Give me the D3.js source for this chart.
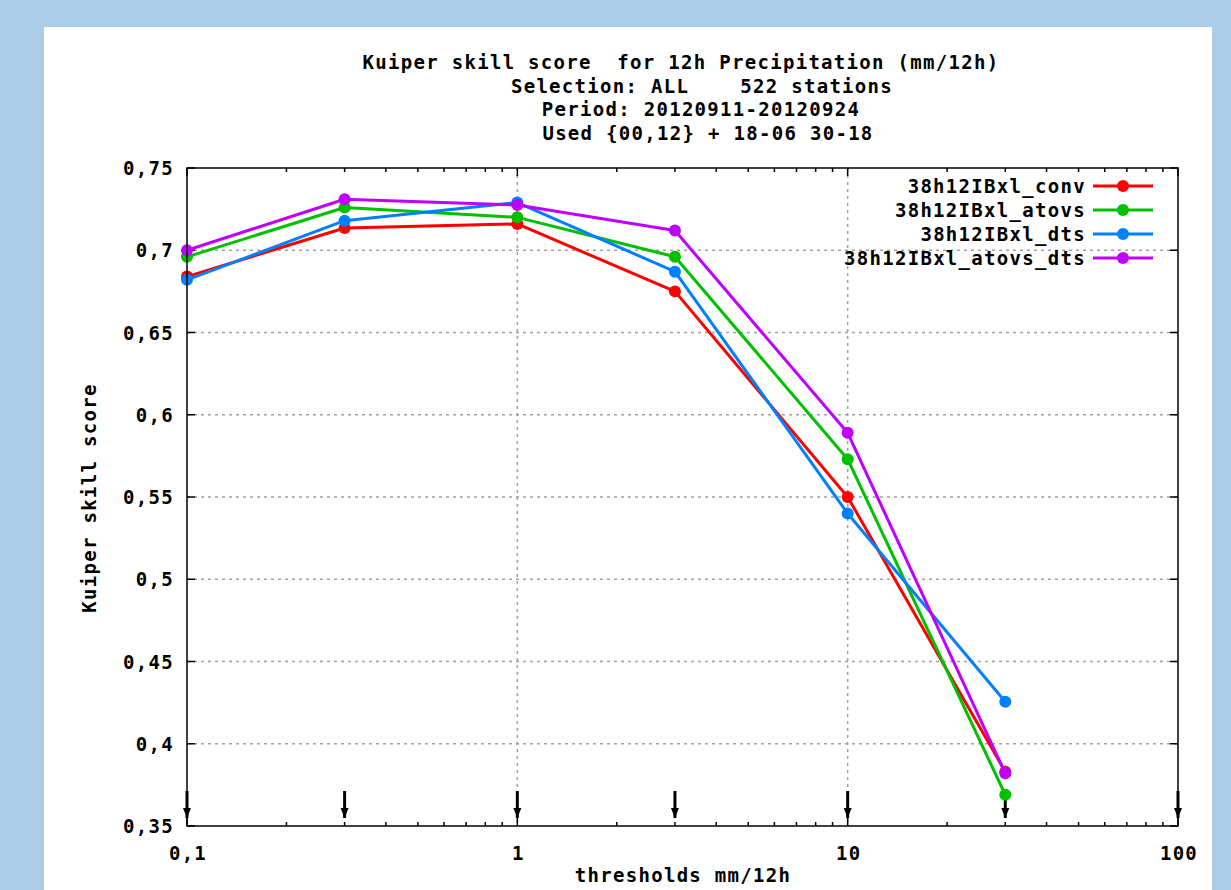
<!DOCTYPE html>
<html><head><meta charset="utf-8">
<script src="https://cdn.jsdelivr.net/npm/d3@7"></script>
<style>
html,body{margin:0;padding:0;background:#adcde6;overflow:hidden;}
text{font-family:"DejaVu Sans Mono",monospace;font-weight:bold;font-size:19px;letter-spacing:1.3px;fill:#000;white-space:pre;}
</style></head>
<body>
<svg id="c" width="1231" height="890"></svg>
<script>
const thresholds = [0.1, 0.3, 1, 3, 10, 30];
const seriesNames = ["38h12IBxl_conv", "38h12IBxl_atovs", "38h12IBxl_dts", "38h12IBxl_atovs_dts"];
const conv      = [0.684, 0.7135, 0.716, 0.675, 0.550, 0.383];
const atovs     = [0.696, 0.726, 0.720, 0.696, 0.573, 0.369];
const dts       = [0.682, 0.718, 0.729, 0.687, 0.540, 0.4255];
const atovsDts  = [0.700, 0.731, 0.7275, 0.712, 0.589, 0.382];
const colors = ["#ff0000", "#00c000", "#0080ff", "#c000ff"];
const yTicks = [0.35, 0.4, 0.45, 0.5, 0.55, 0.6, 0.65, 0.7, 0.75];
const xTicks = [0.1, 1, 10, 100];
const arrowXs = [0.1, 0.3, 1, 3, 10, 30, 100];
const titleLines = ["Kuiper skill score  for 12h Precipitation (mm/12h)",
  "Selection: ALL    522 stations", "Period: 20120911-20120924", "Used {00,12} + 18-06 30-18"];
const xLabel = "thresholds mm/12h";
const yLabel = "Kuiper skill score";
const allSeries = [conv, atovs, dts, atovsDts];

const svg = d3.select("#c");
svg.append("rect").attr("x",44).attr("y",27).attr("width",1168).attr("height",900).attr("fill","#fff");

const L=187, R=1178, T=168, B=826;
const x = d3.scaleLog().domain([0.1,100]).range([L,R]);
const y = d3.scaleLinear().domain([0.35,0.75]).range([B,T]);

// grid
const g = svg.append("g");
g.selectAll(".gy").data(yTicks.filter(v=>v>0.351&&v<0.749)).join("line")
  .attr("x1",L).attr("x2",R).attr("y1",d=>y(d)).attr("y2",d=>y(d))
  .attr("stroke","#a0a0a0").attr("stroke-width",1.5).attr("stroke-dasharray","3,4");
g.selectAll(".gx").data([1,10]).join("line")
  .attr("x1",d=>x(d)).attr("x2",d=>x(d)).attr("y1",T).attr("y2",B)
  .attr("stroke","#a0a0a0").attr("stroke-width",1.5).attr("stroke-dasharray","3,4");

// axes ticks (inward, mirrored)
const minor = [];
[0.1,1,10].forEach(d=>{for(let k=2;k<=9;k++) minor.push(d*k);});
const tk = svg.append("g").attr("stroke","#000").attr("stroke-width",1.5);
minor.forEach(v=>{
  tk.append("line").attr("x1",x(v)).attr("x2",x(v)).attr("y1",B).attr("y2",B-4);
  tk.append("line").attr("x1",x(v)).attr("x2",x(v)).attr("y1",T).attr("y2",T+4);
});
xTicks.forEach(v=>{
  tk.append("line").attr("x1",x(v)).attr("x2",x(v)).attr("y1",B).attr("y2",B-8);
  tk.append("line").attr("x1",x(v)).attr("x2",x(v)).attr("y1",T).attr("y2",T+8);
});
yTicks.forEach(v=>{
  tk.append("line").attr("x1",L).attr("x2",L+8).attr("y1",y(v)).attr("y2",y(v));
  tk.append("line").attr("x1",R).attr("x2",R-8).attr("y1",y(v)).attr("y2",y(v));
});

// tick labels
svg.selectAll(".yl").data(yTicks).join("text")
  .attr("x",174).attr("y",d=>y(d)+7).attr("text-anchor","end")
  .text(d=>d3.format(".2~f")(d).replace(".",","));
svg.selectAll(".xl").data(xTicks).join("text")
  .attr("x",d=>x(d)+1).attr("y",860).attr("text-anchor","middle")
  .text(d=>String(d).replace(".",","));

// arrows
const ag = svg.append("g");
arrowXs.forEach(v=>{
  const cx = x(v);
  ag.append("line").attr("x1",cx).attr("x2",cx).attr("y1",791).attr("y2",818)
    .attr("stroke","#000").attr("stroke-width",3);
  ag.append("path").attr("d",`M${cx-4},808 L${cx+4},808 L${cx},818 Z`).attr("fill","#000");
});

// series
const line = d3.line().x((d,i)=>x(thresholds[i])).y(d=>y(d));
allSeries.forEach((s,k)=>{
  svg.append("path").datum(s).attr("d",line).attr("fill","none")
    .attr("stroke",colors[k]).attr("stroke-width",3).attr("stroke-linejoin","round");
  svg.selectAll(null).data(s).join("circle")
    .attr("cx",(d,i)=>x(thresholds[i])).attr("cy",d=>y(d)).attr("r",6).attr("fill",colors[k]);
});

// border
svg.append("rect").attr("x",L).attr("y",T).attr("width",R-L).attr("height",B-T)
  .attr("fill","none").attr("stroke","#000").attr("stroke-width",1.5);

// legend
seriesNames.forEach((n,k)=>{
  const ly = 186 + k*24;
  svg.append("text").attr("x",1086).attr("y",ly+7).attr("text-anchor","end").text(n);
  svg.append("line").attr("x1",1093).attr("x2",1153).attr("y1",ly).attr("y2",ly)
    .attr("stroke",colors[k]).attr("stroke-width",3);
  svg.append("circle").attr("cx",1123).attr("cy",ly).attr("r",6).attr("fill",colors[k]);
});

// title
const tcx = [681, 702, 701, 708];
titleLines.forEach((t,i)=>{
  svg.append("text").attr("x",tcx[i]).attr("y",69+i*23.5).attr("text-anchor","middle").text(t);
});
svg.append("text").attr("x",683).attr("y",882).attr("text-anchor","middle").text(xLabel);
svg.append("text").attr("transform","translate(96,498) rotate(-90)").attr("text-anchor","middle").text(yLabel);
</script>
</body></html>
